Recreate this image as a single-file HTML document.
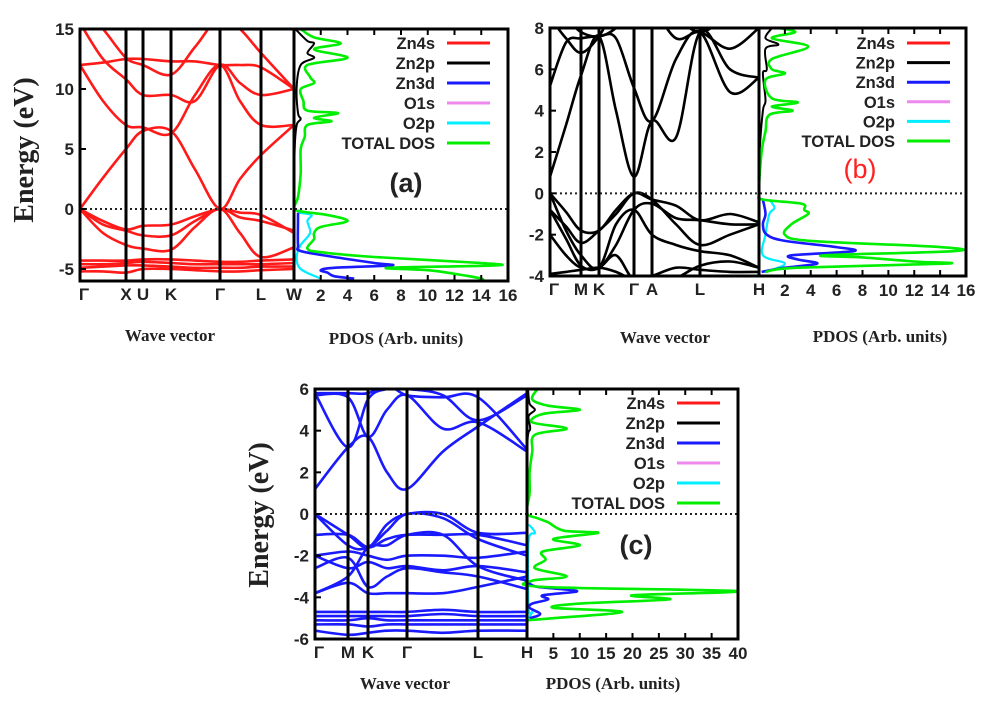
<!DOCTYPE html>
<html><head><meta charset="utf-8"><style>
html,body{margin:0;padding:0;background:#fff}
svg{display:block}
.tk{font-family:"Liberation Sans",sans-serif;font-weight:bold;font-size:17px;fill:#222}
.lg{font-family:"Liberation Sans",sans-serif;font-weight:bold;font-size:16.5px;fill:#222}
.ti{font-family:"Liberation Serif",serif;font-weight:bold;fill:#222}
</style></head><body>
<svg id="fig" width="1001" height="708" viewBox="0 0 1001 708" xmlns="http://www.w3.org/2000/svg"></svg>
<script>
// ---------- Panel (a) data ----------
const aKpts=[0,23,46,63,91,115,140,160,181,214];
const aKLabels=["Γ","X","U","K","Γ","L","W"];
const aKLabelPos=[0,46,63,91,140,181,214];
const aBands=[
[0,2.6,5,6.5,6.5,3.3,0,2.5,4.5,7],
[12,9,7,6.8,6.3,9.5,12,9,7,7],
[12,12.2,12.5,12.5,12.3,12.3,12,12,11.8,10],
[15.5,12.5,10.8,9.5,9.5,9,12,10.5,9.5,10],
[17,15,12.6,12,11.2,13.5,16,15,13,10],
[0,-1,-1.7,-1.4,-1.3,-0.6,0,-0.3,-0.5,-2],
[0,-1.3,-1.8,-2.2,-2.2,-1,0,-0.7,-1,-1.8],
[0,-2,-3,-3.3,-3.4,-1.5,0,-2,-4,-3.2],
[-4.3,-4.3,-4.3,-4.2,-4.2,-4.3,-4.4,-4.4,-4.3,-4.2],
[-4.6,-4.6,-4.5,-4.4,-4.5,-4.6,-4.6,-4.6,-4.6,-4.5],
[-4.9,-4.8,-4.7,-4.7,-4.8,-4.9,-4.9,-4.9,-4.8,-4.8],
[-5.2,-5.2,-5.3,-5.0,-5.0,-5.1,-5.2,-5.2,-5.1,-5.0]];
const aYTicks=[15,10,5,0,-5];
const aXTicks=[2,4,6,8,10,12,14,16];
const aTotE=[15,14.3,13.8,13.3,12.6,12,11,10.5,10,9,8.2,8,7.6,7.3,7,6,5,3,1,0.1,-0.2,-0.5,-1,-1.5,-2,-2.5,-3.3,-3.6,-4,-4.5,-4.7,-4.9,-5.1,-5.4,-5.8,-6];
const aTotV=[0.5,1.5,3.5,1.5,4,1,1.2,1.5,0.5,0.7,1,3.3,1.5,2.8,1,0.8,0.5,0.5,0.3,0,0.5,2.5,4,2,1.5,1.5,1,2,6,14,15,7,10,12,14,14];
const aZn3dE=[-0.3,-1,-3,-3.5,-4,-4.5,-4.7,-4.9,-5.1,-5.3,-5.6,-5.8];
const aZn3dV=[0.3,0.3,0.3,0.5,3,6,7.3,3,2,2.5,3,4.5];
const aO2pE=[-0.3,-0.5,-1,-2,-3,-4,-5,-5.8];
const aO2pV=[0.3,1.3,1,1.2,0.5,0.2,0.5,2];
const aZn2pE=[15,14,13.8,13,12.6,12,10.2,8,7.5,7,5,0];
const aZn2pV=[0.1,1,1.5,1,1.5,0.5,0.2,0.3,0.5,0.2,0.05,0];

// ---------- Panel (b) data ----------
const bKpts=[0,16,31,49,66,84,102,126,150,180,209];
const bKLabels=["Γ","M","K","Γ","A","L","H"];
const bKLabelPos=[0,31,49,84,102,150,209];
const bBands=[
[0.8,3.3,5.7,7.6,4,0.8,3.5,2.7,7.8,6,5.6],
[5.2,7.3,7.5,7.6,7.5,5.1,3.5,6.5,7.8,4.9,5.6],
[8.5,7.5,6.8,7.6,9,9,9,7.5,7.8,7,8],
[9,8.5,7.8,7.6,8,9,9,8.5,7.8,8.5,8.5],
[0,-0.9,-1.8,-1.8,-0.8,0,-0.3,-0.6,-1.3,-1.0,-1.4],
[-0.8,-1.6,-2.4,-1.8,-1,0,-0.3,-1.5,-2.5,-2.0,-1.5],
[0,-1.8,-3.0,-3.6,-1.5,-0.8,-2,-2.5,-2.8,-3.0,-3.6],
[-0.8,-2.2,-3.5,-3.6,-2.5,-0.8,-0.5,-1.2,-1.3,-1.5,-1.5],
[-2,-3,-3.6,-3.6,-3,-4.2,-4,-3.6,-3.7,-3.8,-3.8],
[-3.9,-3.8,-3.7,-3.6,-3.8,-4.2,-4.3,-4.1,-3.5,-3.3,-3.6]];
const bYTicks=[8,6,4,2,0,-2,-4];
const bXTicks=[2,4,6,8,10,12,14,16];
const bTotE=[8,7.8,7.5,7.1,6.5,6,5.8,5.5,4.6,4.4,4.2,4.0,3.8,3,2,0.05,-0.3,-0.5,-0.8,-1,-1.5,-2,-2.3,-2.6,-2.8,-3,-3.1,-3.3,-3.4,-3.6,-3.8];
const bTotV=[1.5,2.8,1,3.8,1,1,2,0.5,1,3,1,2.6,0.8,0.5,0.2,0,0.3,3.3,3.5,3.8,2.5,2,4,14,15,5,8,12,14.5,3,0.5];
const bZn3dE=[-0.3,-1,-1.5,-2,-2.3,-2.6,-2.8,-3.0,-3.2,-3.4,-3.6,-3.8];
const bZn3dV=[0.3,0.5,0.3,0.6,2,6,7.3,2.5,3,4.5,2,0.2];
const bO2pE=[-0.3,-0.7,-1,-2,-3,-3.4,-3.8];
const bO2pV=[0.8,1.2,0.8,0.5,0.3,2,0.5];
const bZn2pE=[8,7.5,7.2,7,6,5.8,4.5,4,2,0];
const bZn2pV=[1,0.5,1.5,0.5,0.6,0.3,0.5,0.3,0.05,0];

// ---------- Panel (c) data ----------
const cKpts=[0,33,53,72,92,128,163,212];
const cKLabels=["Γ","M","K","Γ","L","H"];
const cKLabelPos=[0,33,53,92,163,212];
const cBands=[
[1.2,3.2,3.7,2,1.2,3,4.2,5.8],
[5.7,5.6,3.7,5,5.7,4.1,4.4,3.0],
[5.8,5.8,5.8,6.2,5.7,5.6,5.6,3.1],
[5.8,3.2,5.5,6,6,5.7,4.5,5.7],
[0,-1,-1.6,-0.5,0,0,-0.9,-0.9],
[0,-1.5,-1.6,-0.8,0,-0.2,-1.2,-2],
[-1,-1,-1.6,-1.2,-1,-1,-1.0,-1.5],
[-2,-1.8,-2.0,-2.2,-2,-2.0,-2.1,-1.8],
[-2,-2.6,-2.3,-2.6,-2.5,-2.7,-2.5,-2.8],
[-2.6,-2.1,-3.5,-3.0,-2.6,-2.8,-3.0,-3.6],
[-3.8,-3.3,-3.8,-3.8,-3.8,-3.8,-3.5,-3.0],
[-3.8,-3,-1.6,-1.5,-1,-1,-2.5,-3.2],
[-4.7,-4.7,-4.7,-4.7,-4.7,-4.6,-4.7,-4.7],
[-4.9,-4.9,-4.9,-4.9,-4.9,-4.8,-4.9,-4.9],
[-5.1,-5.1,-5.0,-5.1,-5.1,-5.1,-5.1,-5.1],
[-5.3,-5.3,-5.4,-5.3,-5.3,-5.3,-5.3,-5.3],
[-5.6,-5.8,-5.7,-5.6,-5.6,-5.7,-5.6,-5.6]];
const cYTicks=[6,4,2,0,-2,-4,-6];
const cXTicks=[5,10,15,20,25,30,35,40];
const cTotE=[6,5.5,5.2,5,4.8,4.4,4.1,3.8,3,2,1,0.05,-0.2,-0.4,-0.8,-0.9,-1.2,-1.5,-1.8,-2.2,-2.6,-3,-3.2,-3.5,-3.7,-3.9,-4.1,-4.3,-4.5,-4.7,-5,-5.1];
const cTotV=[2,1,4,10,3,1,7.5,1.5,1,0.5,0.5,0,2,4,7,13.5,5,10,3,3.5,1.5,7.5,1,3,40,20,27,10,5,18,5,0];
const cZn3dE=[-3.3,-3.5,-3.7,-3.9,-4.1,-4.3,-4.5,-4.8,-5];
const cZn3dV=[0.3,2,9.5,3,4,1,0.5,2.5,0.5];
const cO2pE=[-0.5,-0.9,-1.3,-4.5,-4.7,-5];
const cO2pV=[0.3,1.5,0.3,0.3,1,0.2];
const cZn2pE=[6,5.3,5,4.7,4.1,3.5,0];
const cZn2pV=[0.2,0.5,1.5,0.3,0.6,0.1,0];

const legendNames=["Zn4s","Zn2p","Zn3d","O1s","O2p","TOTAL DOS"];
const legendColors=["#ff1a1a","#000","#1a1aff","#ee88ee","#00eeff","#00ee00"];

const NS="http://www.w3.org/2000/svg";
const svg=document.getElementById('fig');
function mk(tag,attrs,parent){const e=document.createElementNS(NS,tag);for(const k in attrs)e.setAttribute(k,attrs[k]);(parent||svg).appendChild(e);return e;}
function smooth(pts){let d="M"+pts[0][0]+","+pts[0][1];for(let i=0;i<pts.length-1;i++){const p0=pts[i-1]||pts[i],p1=pts[i],p2=pts[i+1],p3=pts[i+2]||p2;const c1=[p1[0]+(p2[0]-p0[0])/6,p1[1]+(p2[1]-p0[1])/6],c2=[p2[0]-(p3[0]-p1[0])/6,p2[1]-(p3[1]-p1[1])/6];d+=" C"+c1[0].toFixed(1)+","+c1[1].toFixed(1)+" "+c2[0].toFixed(1)+","+c2[1].toFixed(1)+" "+p2[0].toFixed(1)+","+p2[1].toFixed(1);}return d;}

function panel(P){
  const g=mk('g',{});
  
  
  const yS=e=>P.top+(P.yMax-e)/(P.yMax-P.yMin)*(P.bot-P.top);
  const kMax=P.kpts[P.kpts.length-1];
  const kS=k=>P.left+k/kMax*(P.div-P.left);
  const dS=v=>P.div+v/P.dMax*(P.right-P.div);
  const cid='clip-'+P.id;
  const cp=mk('clipPath',{id:cid},g);mk('rect',{x:P.left,y:P.top,width:P.right-P.left,height:P.bot-P.top},cp);
  const bg=mk('g',{'clip-path':'url(#'+cid+')'},g);
  P.bands.forEach((b)=>{const p=mk('path',{d:smooth(b.map((e,j)=>[kS(P.kpts[j]),yS(e)])),fill:'none',stroke:P.bandColor,'stroke-width':2.6},bg);
    
    });
  const series=[[P.zn2pE,P.zn2pV,'#000',2],[P.o2pE,P.o2pV,'#00eeff',2.2],[P.zn3dE,P.zn3dV,'#1a1aff',2.6],[P.totE,P.totV,'#00ee00',2.6]];
  const sn=['zn2p-dos','o2p-dos','zn3d-dos','total-dos'];
  series.forEach((s,i)=>{const p=mk('path',{d:smooth(s[0].map((e,j)=>[dS(s[1][j]),yS(e)])),fill:'none',stroke:s[2],'stroke-width':s[3]},bg);
    
    });
  mk('line',{x1:P.left,x2:P.right,y1:yS(0),y2:yS(0),stroke:'#222','stroke-width':2,'stroke-dasharray':'2,3'},g);
  P.kLabelPos.forEach((k,i)=>{if(i>0)mk('line',{x1:kS(k),x2:kS(k),y1:P.top,y2:P.bot,stroke:'#000','stroke-width':3},g);
    const t=mk('text',{x:kS(k)+(i==0?4:0),y:P.bot+19,'text-anchor':'middle',class:'tk'},g);t.textContent=P.kLabels[i];
    
    });
  P.yTicks.forEach(v=>{mk('line',{x1:P.left,x2:P.left+6,y1:yS(v),y2:yS(v),stroke:'#000','stroke-width':2},g);
    const t=mk('text',{x:P.left-6,y:yS(v)+6,'text-anchor':'end',class:'tk'},g);t.textContent=v;
    
    });
  P.xTicks.forEach(v=>{const x=dS(v);mk('line',{x1:x,x2:x,y1:P.top,y2:P.top+6,stroke:'#000','stroke-width':2},g);mk('line',{x1:x,x2:x,y1:P.bot,y2:P.bot-6,stroke:'#000','stroke-width':2},g);
    const t=mk('text',{x:x,y:P.bot+20,'text-anchor':'middle',class:'tk'},g);t.textContent=v;
    
    });
  mk('rect',{x:P.left,y:P.top,width:P.right-P.left,height:P.bot-P.top,fill:'none',stroke:'#000','stroke-width':3},g);
  legendNames.forEach((n,i)=>{const y=P.legY+i*P.legDy;const t=mk('text',{x:P.legX,y:y+6,'text-anchor':'end',class:'lg'},g);t.textContent=n;
    
    
    mk('line',{x1:P.legX+12,x2:P.legX+55,y1:y,y2:y,stroke:legendColors[i],'stroke-width':3},g);});
  const pl=mk('text',{x:P.lab[0],y:P.lab[1],'text-anchor':'middle','font-family':'Liberation Sans, sans-serif','font-size':27,'font-weight':P.labBold?'bold':'normal',fill:P.labColor},g);pl.textContent=P.labText;
  
  
  const wv=mk('text',{x:P.wv[0],y:P.wv[1],'text-anchor':'middle',class:'ti','font-size':17},g);wv.textContent="Wave vector";
  
  
  const pd=mk('text',{x:P.pd[0],y:P.pd[1],'text-anchor':'middle',class:'ti','font-size':17},g);pd.textContent="PDOS (Arb. units)";
  
  
  if(P.en){const en=mk('text',{x:0,y:0,'text-anchor':'middle',class:'ti','font-size':28,transform:'translate('+P.en[0]+','+P.en[1]+') rotate(-90)'},g);en.textContent="Energy (eV)";
    
    }
}
panel({id:'a',name:'panel-a',left:80,right:508,top:29,bot:281,div:294,yMax:15,yMin:-6,dMax:16,kpts:aKpts,kLabels:aKLabels,kLabelPos:aKLabelPos,bands:aBands,bandColor:'#ff1a1a',yTicks:aYTicks,xTicks:aXTicks,totE:aTotE,totV:aTotV,zn3dE:aZn3dE,zn3dV:aZn3dV,o2pE:aO2pE,o2pV:aO2pV,zn2pE:aZn2pE,zn2pV:aZn2pV,legX:435,legY:43,legDy:20,lab:[406,192],labText:'(a)',labBold:true,labColor:'#222',wv:[170,341],pd:[396,344],en:[33,150]});
panel({id:'b',name:'panel-b',left:550,right:966,top:28,bot:276,div:759,yMax:8,yMin:-4,dMax:16,kpts:bKpts,kLabels:bKLabels,kLabelPos:bKLabelPos,bands:bBands,bandColor:'#000',yTicks:bYTicks,xTicks:bXTicks,totE:bTotE,totV:bTotV,zn3dE:bZn3dE,zn3dV:bZn3dV,o2pE:bO2pE,o2pV:bO2pV,zn2pE:bZn2pE,zn2pV:bZn2pV,legX:895,legY:43,legDy:19.6,lab:[860,178],labText:'(b)',labBold:false,labColor:'#ff2020',wv:[665,343],pd:[880,342],en:null});
panel({id:'c',name:'panel-c',left:315,right:738,top:389,bot:639,div:527,yMax:6,yMin:-6,dMax:40,kpts:cKpts,kLabels:cKLabels,kLabelPos:cKLabelPos,bands:cBands,bandColor:'#1a1aff',yTicks:cYTicks,xTicks:cXTicks,totE:cTotE,totV:cTotV,zn3dE:cZn3dE,zn3dV:cZn3dV,o2pE:cO2pE,o2pV:cO2pV,zn2pE:cZn2pE,zn2pV:cZn2pV,legX:665,legY:403,legDy:20,lab:[636,554],labText:'(c)',labBold:true,labColor:'#222',wv:[405,689],pd:[613,689],en:[268,515]});
</script>
</body></html>
